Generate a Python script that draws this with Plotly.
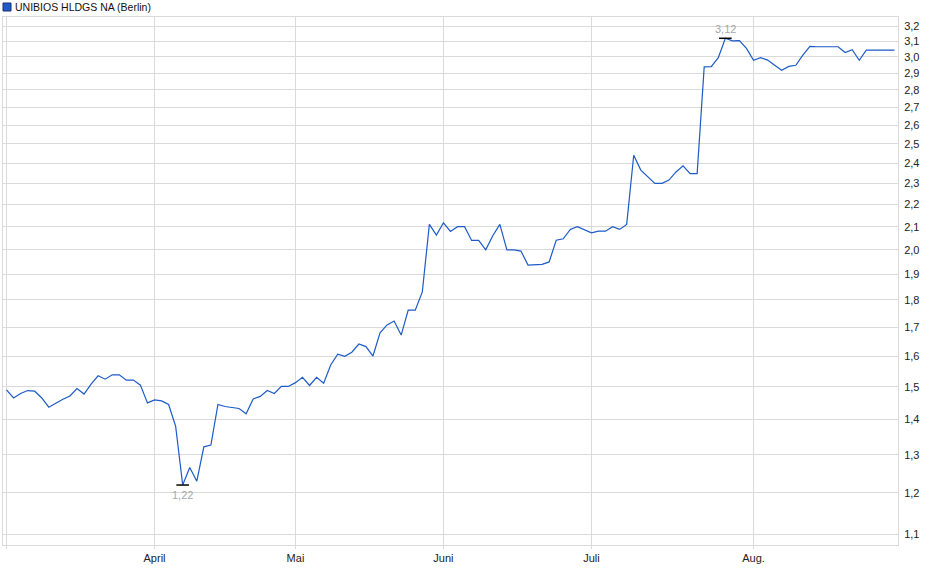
import math
import pandas as pd
import plotly.graph_objects as go

# ---- data -------------------------------------------------------------
title_text = "UNIBIOS HLDGS NA (Berlin)"
holidays = ["2025-04-18", "2025-04-21", "2025-05-01"]
dates = [d.strftime("%Y-%m-%d") for d in pd.bdate_range("2025-03-03", "2025-08-29")
         if d.strftime("%Y-%m-%d") not in holidays]

prices = [
    1.49, 1.465, 1.479, 1.488, 1.486, 1.465, 1.437, 1.45, 1.461, 1.471,
    1.494, 1.477, 1.508, 1.535, 1.524, 1.538, 1.538, 1.521, 1.521, 1.505,
    1.45, 1.459, 1.456, 1.445, 1.38, 1.22, 1.266, 1.23, 1.322, 1.327,
    1.445, 1.439, 1.436, 1.433, 1.417, 1.462, 1.47, 1.488, 1.479, 1.501,
    1.501, 1.513, 1.53, 1.504, 1.53, 1.511, 1.57, 1.606, 1.599, 1.613,
    1.641, 1.632, 1.60, 1.68, 1.708, 1.722, 1.672, 1.762, 1.762, 1.831,
    2.11, 2.063, 2.117, 2.079, 2.10, 2.10, 2.04, 2.04, 2.0, 2.06,
    2.11, 2.0, 2.0, 1.995, 1.937, 1.94, 1.94, 1.95, 2.041, 2.047,
    2.088, 2.10, 2.085, 2.073, 2.08, 2.08, 2.10, 2.088, 2.11, 2.44,
    2.365, 2.332, 2.30, 2.30, 2.316, 2.356, 2.386, 2.348, 2.348, 2.938,
    2.94, 2.996, 3.12, 3.103, 3.105, 3.054, 2.979, 2.996, 2.98, 2.948,
    2.917, 2.941, 2.948, 3.011, 3.068, 3.065, 3.065, 3.065, 3.065, 3.028,
    3.046, 2.979, 3.043, 3.043, 3.043, 3.043, 3.043,
]
assert len(dates) == len(prices)

month_ticks = ["2025-03-03", "2025-04-01", "2025-05-02", "2025-06-02", "2025-07-01", "2025-08-01"]
month_labels = ["", "April", "Mai", "Juni", "Juli", "Aug."]
y_ticks = [round(1.1 + 0.1 * k, 1) for k in range(22)]

# ---- styling ----------------------------------------------------------
LINE = "#1c5bc8"
GRID = "#dadada"
FONT = "Liberation Sans, Arial, sans-serif"

i_min = prices.index(min(prices))
i_max = prices.index(max(prices))

fig = go.Figure()
fig.add_trace(go.Scatter(x=dates, y=prices, mode="lines",
                         line=dict(color=LINE, width=1.2), hoverinfo="skip"))
fig.add_trace(go.Scatter(x=[dates[i_min], dates[i_max]],
                         y=[prices[i_min], prices[i_max]], mode="markers",
                         marker=dict(symbol="line-ew", size=9,
                                     line=dict(color="#000000", width=1.5)),
                         hoverinfo="skip"))

fmt = lambda v: f"{v:.2f}".replace(".", ",")
fig.add_annotation(x=dates[i_min], y=math.log10(prices[i_min]),
                   text=fmt(prices[i_min]), showarrow=False, yanchor="top", yshift=-2,
                   font=dict(family=FONT, size=11, color="#a8a8a8"))
fig.add_annotation(x=dates[i_max], y=math.log10(prices[i_max]),
                   text=fmt(prices[i_max]), showarrow=False, yanchor="bottom", yshift=1,
                   font=dict(family=FONT, size=11, color="#a8a8a8"))

# legend-like header
fig.add_shape(type="rect", xref="paper", yref="paper",
              xsizemode="pixel", ysizemode="pixel", xanchor=0, yanchor=1,
              x0=0, x1=8, y0=6, y1=14,
              fillcolor=LINE, line=dict(color="#1a2f6e", width=1))
fig.add_annotation(xref="paper", yref="paper", x=0, y=1, xanchor="left", yanchor="middle",
                   xshift=10, yshift=10, text=title_text, showarrow=False,
                   font=dict(family=FONT, size=10.5, color="#111111"))

fig.update_layout(
    width=940, height=579,
    margin=dict(l=3, r=42, t=17, b=34),
    paper_bgcolor="white", plot_bgcolor="white",
    showlegend=False,
    separators=",.",
    font=dict(family=FONT, size=11, color="#222222"),
    xaxis=dict(type="category", range=[-0.5, len(dates) - 0.5],
               tickmode="array", tickvals=month_ticks, ticktext=month_labels,
               showgrid=True, gridcolor=GRID, gridwidth=1,
               showline=True, linecolor=GRID, linewidth=1, mirror=True,
               ticks="outside", ticklen=3, tickcolor=GRID,
               tickfont=dict(family=FONT, size=11, color="#222222"),
               zeroline=False, fixedrange=True),
    yaxis=dict(type="log", side="right",
               range=[0.03162, 0.5136],
               tickmode="array", tickvals=y_ticks, tickformat=".1f",
               showgrid=True, gridcolor=GRID, gridwidth=1,
               showline=True, linecolor=GRID, linewidth=1, mirror=True,
               ticks="outside", ticklen=3, tickcolor="white",
               tickfont=dict(family=FONT, size=11, color="#222222"),
               zeroline=False, fixedrange=True),
)

fig.write_html("out.html", config={"displayModeBar": False},
               post_script="document.body.style.margin='0';document.body.style.overflow='hidden';")
